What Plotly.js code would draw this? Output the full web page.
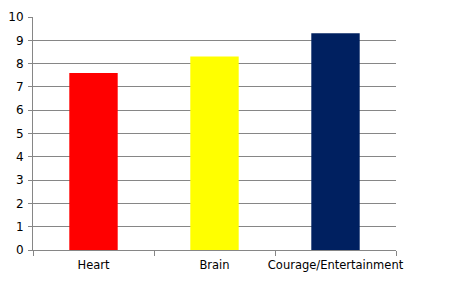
<!DOCTYPE html>
<html><head><meta charset="utf-8">
<script src="https://cdn.plot.ly/plotly-3.0.1.min.js"></script>
<style>body{margin:0;background:#fff}#c{width:462px;height:291px}</style>
</head><body><div id="c"></div>
<script>
const categories = ["Heart", "Brain", "Courage/Entertainment"];
const values = [7.6, 8.3, 9.3];
const colors = ["#FF0000", "#FFFF00", "#002060"];
const yTicks = [0,1,2,3,4,5,6,7,8,9,10];

Plotly.newPlot("c", [{
  type: "bar", x: categories, y: values,
  marker: {color: colors, line: {width: 0}},
  width: 0.4, hoverinfo: "none"
}], {
  width: 462, height: 291,
  margin: {l: 33, r: 66, t: 17, b: 41},
  paper_bgcolor: "#fff", plot_bgcolor: "#fff",
  showlegend: false,
  font: {family: "Tahoma, 'DejaVu Sans', sans-serif", size: 12, color: "#000"},
  xaxis: {
    type: "category", showgrid: false, showline: true, linecolor: "#868686", linewidth: 1,
    ticks: "outside", tickson: "boundaries", ticklen: 5, tickcolor: "#868686",
    tickangle: 0, ticklabelstandoff: 4, tickfont: {size: 11.5}, fixedrange: true
  },
  yaxis: {
    range: [0, 10], tickvals: yTicks, ticktext: yTicks.map(String),
    showgrid: true, gridcolor: "#868686", gridwidth: 1,
    showline: true, linecolor: "#868686", linewidth: 1,
    ticks: "outside", ticklen: 4, tickcolor: "#868686",
    ticklabelstandoff: 2, zeroline: false, tickfont: {size: 12}, fixedrange: true
  }
}, {staticPlot: true});
</script></body></html>
